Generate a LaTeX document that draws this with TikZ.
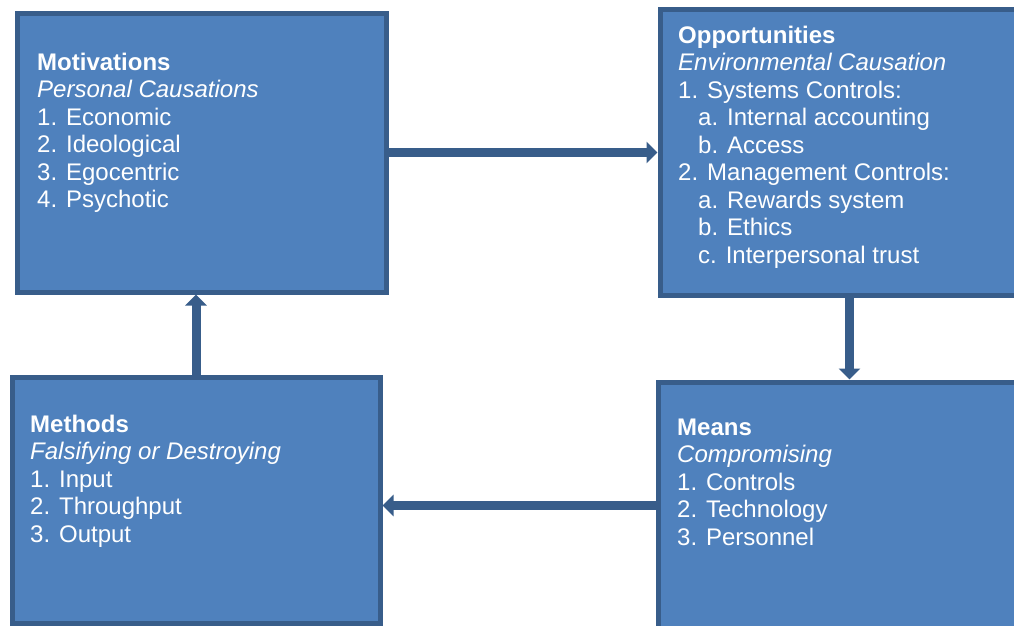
\documentclass[tikz,border=0pt]{standalone}
\usepackage{fontspec}
\setmainfont{Liberation Sans}
\usetikzlibrary{arrows.meta}
\definecolor{panelfill}{RGB}{79,129,189}
\definecolor{panelline}{RGB}{56,93,138}
\tikzset{
  panel/.style={
    draw=panelline,
    line width=5pt,
    fill=panelfill,
    inner sep=0pt,
    anchor=north west
  },
  paneltext/.style={
    text=white,
    anchor=north west,
    align=left,
    inner sep=0pt,
    font=\fontsize{24}{27.5}\selectfont,
    execute at begin node=\strut
  },
  flow/.style={-{Triangle[width=21pt,length=11pt]}, line width=9pt, draw=panelline}
}
\newcommand{\sub}{\hspace*{20pt}}

\begin{document}
\begin{tikzpicture}[x=1pt,y=-1pt]
        \useasboundingbox (0,0) rectangle (1014,625);
        % the four boxes
        \node[panel, minimum width=369pt, minimum height=279pt] (motiv) at (14.5,10.5) {};
        \node[panel, minimum width=379pt, minimum height=286pt] (opp) at (657.5,6.5) {};
        \node[panel, minimum width=368pt, minimum height=246pt] (methods) at (9.5,374.5) {};
        \node[panel, minimum width=383pt, minimum height=247pt] (means) at (655.5,379.5) {};
        % their texts (top of first strut)
        \node[paneltext] (motivtext) at (37,52.5) {\textbf{Motivations}\\\textit{Personal Causations}\\1. Economic\\2. Ideological\\3. Egocentric\\4. Psychotic};
        \node[paneltext] (opptext) at (678,25.5) {\textbf{Opportunities}\\\textit{Environmental Causation}\\1. Systems Controls:\\\sub a. Internal accounting\\\sub b. Access\\2. Management Controls:\\\sub a. Rewards system\\\sub b. Ethics\\\sub c. Interpersonal trust};
        \node[paneltext] (methodstext) at (30,414.5) {\textbf{Methods}\\\textit{Falsifying or Destroying}\\1. Input\\2. Throughput\\3. Output};
        \node[paneltext] (meanstext) at (677,418.5) {\textbf{Means}\\\textit{Compromising}\\1. Controls\\2. Technology\\3. Personnel};
        % the cycle
        \draw[flow] (motiv.east) -- (motiv.east -| opp.west);
        \draw[flow] (opp.south) -- (means.north);
        \draw[flow] (means.west) -- (means.west -| methods.east);
        \draw[flow] (methods.north) -- (methods.north |- motiv.south);
      \end{tikzpicture}
\end{document}
